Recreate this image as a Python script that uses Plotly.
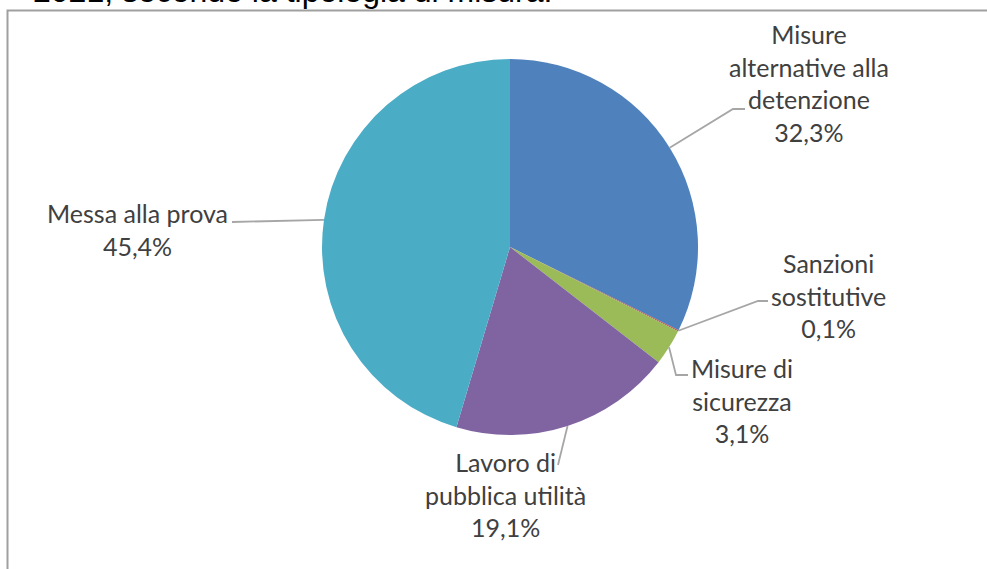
import math
import plotly.graph_objects as go

# ---- data ----
categories = ["Misure alternative alla detenzione", "Sanzioni sostitutive",
              "Misure di sicurezza", "Lavoro di pubblica utilità", "Messa alla prova"]
label_lines = ["Misure<br>alternative alla<br>detenzione", "Sanzioni<br>sostitutive",
               "Misure di<br>sicurezza", "Lavoro di<br>pubblica utilità", "Messa alla prova"]
values = [32.3, 0.1, 3.1, 19.1, 45.4]
value_labels = ["32,3%", "0,1%", "3,1%", "19,1%", "45,4%"]
colors = ["#4F81BD", "#C0504D", "#9BBB59", "#8064A2", "#4BACC6"]
title_text = "2021, secondo la tipologia di misura."

W, H = 987, 569
def px(x): return x / W
def py(y): return 1 - y / H

# pie domain (pixels)
L, R_, T, B = 322, 698, 59, 435
cx, cy = (L + R_) / 2, (T + B) / 2
rad = (R_ - L) / 2

fig = go.Figure(go.Pie(
    labels=categories, values=values, sort=False, direction="clockwise", rotation=0,
    marker=dict(colors=colors, line=dict(width=0)),
    textinfo="none", hoverinfo="label+percent", showlegend=False,
    domain=dict(x=[px(L), px(R_)], y=[py(B), py(T)])
))

# label layout: text centre and leader-line elbow points (pixels)
label_pos = [
    dict(x=809, y=83, path=[(733, 109), (745, 109)]),
    dict(x=828, y=295, path=[(758, 301), (768, 301)]),
    dict(x=742, y=400, path=[(676, 375), (688, 375)]),
    dict(x=505, y=494, path=[(558, 465)]),
    dict(x=137, y=230, path=[(232, 222)]),
]

total = sum(values)
cum = 0
shapes = []
annotations = []
for i, v in enumerate(values):
    mid = (cum + v / 2) / total * 2 * math.pi
    cum += v
    ax = cx + rad * math.sin(mid)
    ay = cy - rad * math.cos(mid)
    pts = [(ax, ay)] + label_pos[i]["path"]
    d = "M " + " L ".join(f"{px(x):.5f},{py(y):.5f}" for x, y in pts)
    shapes.append(dict(type="path", xref="paper", yref="paper", path=d,
                       line=dict(color="#A6A6A6", width=1.8)))
    annotations.append(dict(
        x=px(label_pos[i]["x"]), y=py(label_pos[i]["y"]), xref="paper", yref="paper",
        text=label_lines[i] + "<br>" + value_labels[i], showarrow=False,
        xanchor="center", yanchor="middle", align="center",
        font=dict(family="Lato", size=25, color="#404040")))

# title fragment at top (cut off by the top edge, as in the reference)
annotations.append(dict(x=px(31), y=py(11), xref="paper", yref="paper", text=title_text,
                        showarrow=False, xanchor="left", yanchor="bottom",
                        font=dict(family="Liberation Sans, Arial", size=32, color="#000000")))

# chart frame
shapes.append(dict(type="rect", xref="paper", yref="paper",
                   x0=px(7.5), x1=px(1000), y0=py(600), y1=py(10.5),
                   line=dict(color="#A0A0A0", width=2), layer="below"))

fig.update_layout(width=W, height=H, margin=dict(l=0, r=0, t=0, b=0),
                  paper_bgcolor="white", plot_bgcolor="white",
                  shapes=shapes, annotations=annotations)
fig.write_html("out.html", config={"displayModeBar": False},
               post_script="document.body.style.margin='0';document.body.style.overflow='hidden';")
